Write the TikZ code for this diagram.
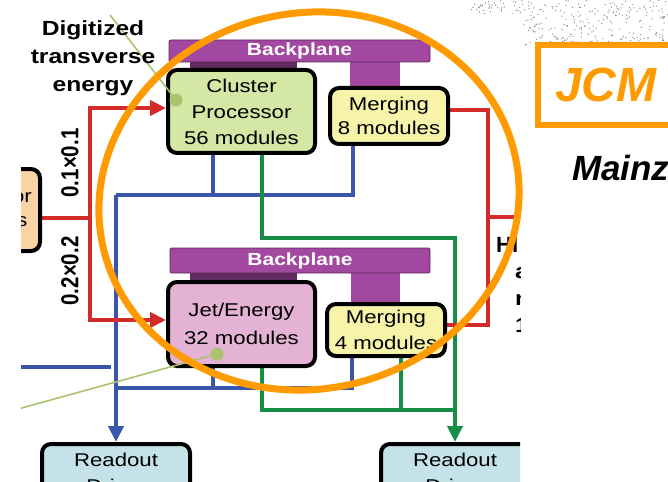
\documentclass[tikz,border=0pt]{standalone}
\usepackage{fontspec}
\setmainfont{Liberation Sans}
\newfontfamily\wide{Liberation Sans}[FakeStretch=1.2]
\usetikzlibrary{arrows.meta,backgrounds}

\definecolor{cpfill}{RGB}{213,231,165}
\definecolor{mgfill}{RGB}{247,244,170}
\definecolor{jefill}{RGB}{227,178,212}
\definecolor{rofill}{RGB}{196,226,231}
\definecolor{ppfill}{RGB}{251,212,166}
\definecolor{plane}{RGB}{163,72,160}
\definecolor{wred}{RGB}{211,42,42}
\definecolor{wblue}{RGB}{58,86,172}
\definecolor{wgreen}{RGB}{22,142,70}
\definecolor{ring}{RGB}{255,154,0}
\definecolor{ptr}{RGB}{170,196,110}

\tikzset{
  box/.style={draw, line width=4pt, rounded corners=9pt, align=center, inner sep=0pt,
    font=\wide\fontsize{18.5}{26}\selectfont},
  bplane/.style={fill=plane, draw=plane!55!black, line width=0.8pt, rounded corners=2pt,
    inner sep=0pt, text=white, font=\wide\bfseries\fontsize{17.5}{20}\selectfont},
  stub/.style={fill=plane, inner sep=0pt},
  wire/.style={line width=4pt},
  tip/.style={-{Triangle[length=16pt,width=15pt]}},
  lbl/.style={font=\wide\bfseries\fontsize{20.5}{28}\selectfont, align=center, inner sep=0pt},
  rot/.style={rotate=90, inner sep=0pt, font=\bfseries\fontsize{20.5}{24}\selectfont},
  dot/.style={circle, fill=ptr, inner sep=0pt, minimum size=13pt},
  pointer/.style={ptr, line width=1.6pt},
}

\begin{document}
\begin{tikzpicture}[x=1pt, y=-1pt]
\useasboundingbox (0,0) rectangle (668,481);

% speckled slide background
\pgfmathsetseed{12}
\foreach \k in {1,...,260}{
  \pgfmathsetmacro\sx{523+145*rnd}\pgfmathsetmacro\sy{46*rnd}
  \fill[black!45] (\sx,\sy) circle (0.7pt);}
\foreach \k in {1,...,40}{
  \pgfmathsetmacro\sx{470+53*rnd}\pgfmathsetmacro\sy{14*rnd}
  \fill[black!45] (\sx,\sy) circle (0.7pt);}

\begin{scope}
\clip (21,0) rectangle (520,481);
\path (116,195) coordinate (tb) (116,388) coordinate (lb)
      (0,367) coordinate (bin) (111,367) coordinate (bend)
      (455,238) coordinate (gt) (455,410) coordinate (gl)
      (90,218) coordinate (rs) (488,217) coordinate (rb) (530,217) coordinate (rout)
      (110,15) coordinate (ptop) (0,414) coordinate (pbot);

% backplanes
\fill[plane!60!black] (190,60) rectangle (297,70);
\fill[plane!60!black] (190,271) rectangle (297,282);
\node[stub, minimum width=50pt, minimum height=28pt] (s1) at (375,74) {};
\node[stub, minimum width=49pt, minimum height=30pt] (s2) at (375.5,287.5) {};
\node[bplane, minimum width=261pt, minimum height=22pt] (bp1) at (299.5,51) {Backplane};
\node[bplane, minimum width=260pt, minimum height=25pt] (bp2) at (300,260.5) {Backplane};

% modules
\node[box, fill=cpfill, minimum width=147pt, minimum height=83pt] (cp) at (241.5,111.5) {Cluster\\Processor\\56 modules};
\node[box, fill=mgfill, minimum width=118pt, minimum height=56pt,
      font=\wide\fontsize{18.5}{24}\selectfont] (m8) at (389,116) {Merging\\8 modules};
\node[box, fill=jefill, minimum width=147pt, minimum height=84pt,
      font=\wide\fontsize{18.5}{28}\selectfont] (je) at (241.5,324) {Jet/Energy\\32 modules};
\node[box, fill=mgfill, minimum width=118pt, minimum height=52pt] (m4) at (386,330) {Merging\\4 modules};
\node[box, fill=rofill, minimum width=148pt, anchor=north, inner ysep=9pt] (rl) at (116,442) {Readout\\Driver};
\node[box, fill=rofill, minimum width=148pt, anchor=north, inner ysep=9pt] (rr) at (455,442) {Readout\\Driver};
\node[box, fill=ppfill, minimum width=36pt, minimum height=82pt,
      font=\wide\fontsize{18.5}{24}\selectfont] (pp) at (22,210) {or\\s};

% links
\begin{pgfonlayer}{background}
\clip (21,0) rectangle (520,481);
\draw[wire, wblue] ([xshift=-28.5pt]cp.south) |- (tb);
\draw[wire, wblue] ([xshift=-36pt]m8.south) |- (tb);
\draw[wire, wblue, tip] (tb) -- (rl.north);
\draw[wire, wblue] ([xshift=-28.5pt]je.south) |- (lb);
\draw[wire, wblue] ([xshift=-34pt]m4.south) |- (lb);
\draw[wire, wblue] (bin) -- (bend);
\draw[wire, wgreen, tip] ([xshift=20.5pt]cp.south) |- (gt) -- (rr.north);
\draw[wire, wgreen] ([xshift=20.5pt]je.south) |- (gl);
\draw[wire, wgreen] ([xshift=15pt]m4.south) |- (gl);
\draw[wire, wred] ([yshift=-8pt]pp.east) -- (rs);
\draw[wire, wred, tip] (rs) |- ([yshift=3.5pt]cp.west);
\draw[wire, wred, tip] (rs) |- ([yshift=4pt]je.west);
\draw[wire, wred] ([yshift=6pt]m8.east) -| (rb);
\draw[wire, wred] ([yshift=5pt]m4.east) -| (rb);
\draw[wire, wred] (rb) -- (rout);
\end{pgfonlayer}

% pointers
\node[dot] (d1) at (176,100) {};
\node[dot] (d2) at (217,354) {};
\draw[pointer] (ptop) -- (d1);
\draw[pointer] (d2) -- (pbot);

% labels
\node[lbl] (dte) at (93,58) {Digitized\\transverse\\energy};
\node[rot] (g1) at (70,163) {\scalebox{1}[1.2]{0.1×0.1}};
\node[rot] (g2) at (70,271) {\scalebox{1}[1.2]{0.2×0.2}};
\node[lbl, anchor=base west, font=\bfseries\fontsize{22}{22}\selectfont] (h1) at (496,252) {HI};
\node[lbl, anchor=base west] (h2) at (515,278) {a};
\node[lbl, anchor=base west] (h3) at (515,305) {n};
\node[lbl, anchor=base west] (h4) at (515,332) {1};
\end{scope}

% highlight ring
\draw[ring, line width=7pt, rotate around={12:(309,201)}] (309,201) ellipse [x radius=211, y radius=188];

% title box
\draw[ring, line width=6pt] (538,45) rectangle (700,125);
\node[anchor=base west, inner sep=0pt, text=ring, font=\bfseries\itshape\fontsize{48}{48}\selectfont] (jcm) at (555,102) {JCM};
\node[anchor=base west, inner sep=0pt, font=\bfseries\itshape\fontsize{35}{35}\selectfont] (mz) at (572,180) {Mainz};
\end{tikzpicture}
\end{document}
